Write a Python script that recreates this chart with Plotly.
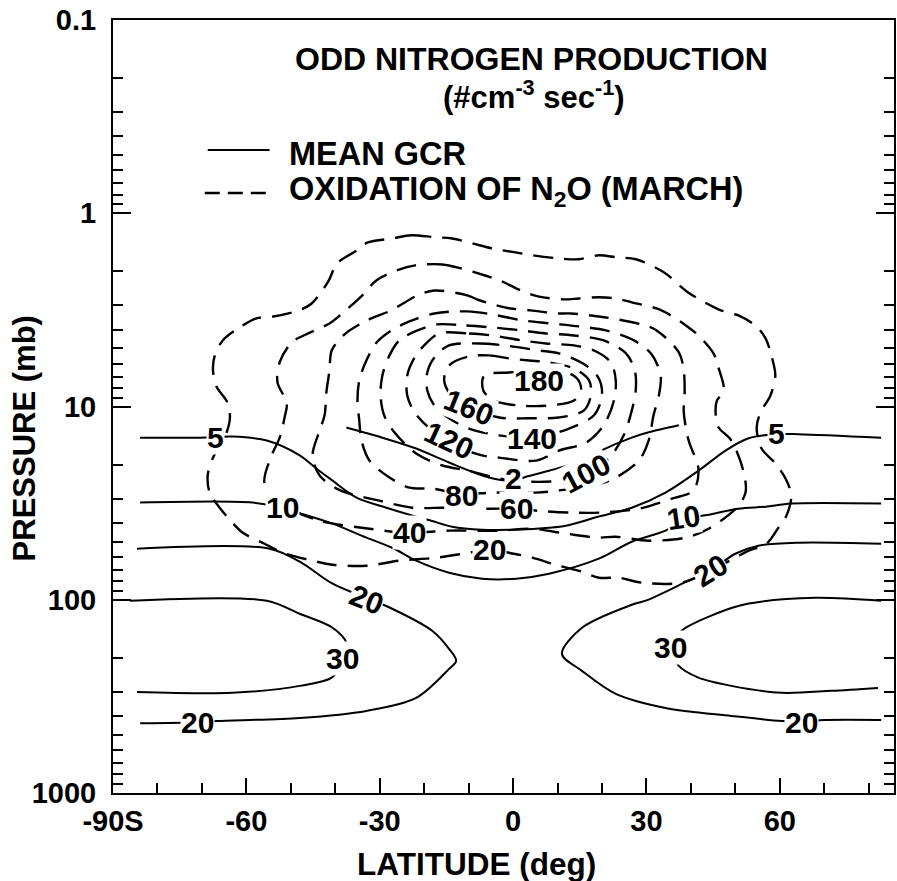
import numpy as np
import plotly.graph_objects as go

# ---------------- DATA (latitude in deg, pressure in mb) ----------------
# Mean GCR odd-nitrogen production (solid contours)
gcr_5_lat = [-83.9, -70.5, -63.1, -55.4, -48.0, -44.2, -40.6, -35.2, -28.5, -23.3, -18.4, -13.7, -7.0, 0.7, 8.1,
             11.9, 19.3, 26.7, 34.3, 41.7, 47.8, 53.0, 59.0, 64.2, 82.8]
gcr_5_p = [14.5, 14.5, 14.3, 15.0, 17.9, 21.0, 24.2, 29.6, 33.4, 36.3, 39.0, 41.9, 43.4, 43.4, 42.4,
           41.4, 37.1, 33.4, 27.9, 21.5, 16.9, 14.6, 13.9, 13.9, 14.5]

gcr_10_lat = [-83.9, -58.6, -51.8, -46.9, -40.6, -33.0, -27.2, -21.8, -14.4, -7.0, 0.7, 8.1, 19.3, 26.7, 34.3,
              38.4, 44.0, 50.7, 56.8, 62.6, 82.8]
gcr_10_p = [31.4, 31.4, 33.4, 36.3, 40.4, 47.7, 53.8, 62.8, 72.5, 77.8, 77.8, 73.3, 61.3, 50.1, 43.9,
            38.5, 36.3, 33.8, 33.0, 31.8, 31.8]

gcr_20s_lat = [-84.6, -54.8, -48.0, -40.6, -33.0, -27.2, -18.2, -14.4, -12.8, -14.4, -21.8, -33.0, -48.0, -66.7,
               -71.2, -83.9]
gcr_20s_p = [54.4, 54.4, 63.5, 82.6, 97.9, 111.3, 144.7, 179.5, 207, 227.9, 322, 376, 409, 424, 430, 436]

gcr_20n_lat = [82.8, 64.2, 55.2, 50.0, 44.4, 39.5, 30.5, 26.7, 15.5, 11.0, 15.5, 23.1, 34.3, 49.1, 60.4, 64.9,
               70.2, 82.8]
gcr_20n_p = [51.3, 50.7, 52.5, 57.8, 70.7, 79.7, 99.9, 106.2, 139.7, 190.5, 233.3, 307, 363, 399, 424, 426,
             419, 419]

gcr_30s_lat = [-86.2, -55.4, -48.0, -40.6, -37.5, -37.9, -40.8, -48.0, -63.1, -84.6]
gcr_30s_p = [101.2, 101.2, 118.2, 139.6, 167, 202, 253, 279, 303, 300]

gcr_30n_lat = [82.8, 68.0, 53.0, 45.6, 37.9, 35.5, 37.3, 41.7, 49.1, 60.4, 71.6, 82.1]
gcr_30n_p = [101.2, 97.6, 104.7, 118.2, 144.7, 177, 220, 253, 279, 303, 296, 286]

gcr_2_lat = [-37.5, -29.4, -21.8, -14.4, -5.4, 0.2, 2.9, 8.1, 15.5, 19.3, 26.7, 30.5, 37.3]
gcr_2_p = [12.85, 14.5, 16.5, 19.5, 23.3, 24.2, 23.1, 21.5, 19.05, 17.1, 14.5, 13.6, 12.5]

# Oxidation of N2O, March (dashed contours)
n2o_20_lat = [-27.2, -22.9, -17.7, -13.7, -9.2, -4.7, 0.2, 4.3, 9.9, 14.8, 19.3, 23.3, 27.6, 33.9, 39.3, 46.2,
              50.7, 54.5, 56.8, 58.1, 59.0, 57.9, 55.7, 54.8, 55.9, 59.0, 61.3, 62.6, 61.5, 59.7, 57.0, 53.0,
              50.0, 44.4, 37.9, 28.9, 23.8, 19.3, 15.5, 10.3, 4.3, 0.2, -5.4, -9.9, -17.3, -25.6, -33.0, -40.6,
              -45.1, -51.8, -55.9, -60.8, -63.1, -66.0, -68.2, -68.7, -67.5, -64.9, -63.7, -64.4, -66.7, -67.5,
              -67.1, -65.3, -61.5, -57.7, -53.9, -48.2, -45.3, -41.7, -39.5, -35.2, -32.8, -27.2]
n2o_20_p = [1.35, 1.30, 1.33, 1.35, 1.43, 1.52, 1.59, 1.65, 1.71, 1.73, 1.65, 1.69, 1.73, 2.02, 2.56, 3.14,
            3.38, 3.81, 4.44, 5.44, 6.91, 8.77, 10.7, 12.9, 16.5, 19.7, 23.6, 28.9, 36.7, 42.4, 51.3, 55.7,
            60.6, 70.7, 81.6, 81.6, 76.9, 76.9, 71.6, 66.7, 60.6, 57.8, 55.1, 57.1, 60.6, 62.8, 66.7, 65.9,
            62.8, 57.1, 51.3, 45.0, 40.0, 33.4, 28.2, 22.8, 18.4, 14.5, 11.5, 9.4, 7.9, 6.5,
            5.44, 4.55, 3.9, 3.5, 3.42, 3.18, 2.93, 2.28, 1.81, 1.56, 1.42, 1.35]

n2o_40_lat = [-22.0, -15.9, -11.7, -6.3, -3.1, 1.8, 5.6, 11.4, 14.8, 19.3, 23.1, 26.7, 32.3, 35.5, 39.5, 41.7,
              45.1, 46.2, 47.4, 45.8, 45.6, 46.2, 49.1, 51.8, 52.3, 50.3, 44.0, 38.8, 30.5, 23.1, 19.3, 11.9,
              4.3, -3.1, -14.4, -23.8, -32.3, -43.5, -51.4, -55.9, -54.3, -52.5, -51.4, -50.9, -53.0, -52.5,
              -49.8, -46.5, -41.3, -39.0, -33.9, -30.7, -26.0, -22.0]
n2o_40_p = [1.86, 1.84, 1.93, 2.10, 2.22, 2.51, 2.69, 2.79, 2.76, 2.72, 2.76, 2.89, 3.11, 3.38, 3.90, 4.29,
            5.31, 6.28, 8.26, 9.4, 11.1, 12.8, 15.0, 21.5, 27.9, 33.4, 42.9, 47.7, 49.5, 47.2, 47.7, 45.5,
            42.9, 43.9, 43.9, 45.0, 42.9, 39.0, 32.6, 25.1, 17.9, 14.5, 11.4, 9.6, 7.5, 5.9,
            4.66, 4.23, 3.72, 3.38, 2.66, 2.22, 1.97, 1.86]

n2o_60_lat = [-17.7, -10.3, -7.6, -0.9, 4.0, 9.6, 13.0, 19.3, 22.2, 28.9, 32.3, 37.3, 38.4, 38.6, 38.4, 39.5,
              41.7, 40.6, 35.7, 28.3, 19.7, 13.2, 5.4, 0.7, -6.1, -11.4, -15.9, -22.7, -30.1, -36.8, -39.7,
              -43.5, -45.1, -43.5, -42.4, -42.0, -41.3, -40.8, -37.9, -32.8, -27.4, -21.5, -17.7]
n2o_60_p = [2.51, 2.66, 2.82, 3.10, 3.18, 3.30, 3.30, 3.42, 3.50, 3.76, 4.04, 5.25, 6.51, 8.46, 10.7, 15.0,
            21.0, 27.2, 30.0, 33.8, 35.4, 35.4, 34.6, 33.8, 33.8, 33.4, 33.4, 33.4, 30.7, 28.2, 26.6,
            22.8, 17.9, 13.3, 11.1, 8.46, 6.51, 5.13, 4.23, 3.58, 3.18, 2.66, 2.51]

n2o_80_lat = [-17.7, -10.3, -4.7, 2.0, 8.1, 14.8, 20.9, 27.2, 31.2, 33.2, 32.8, 31.6, 30.5, 28.3, 22.7, 17.1,
              10.3, 5.2, -4.3, -11.7, -18.2, -23.3, -27.8, -32.3, -34.1, -34.6, -35.0, -34.6, -33.0, -30.7,
              -27.4, -23.3, -17.7]
n2o_80_p = [3.30, 3.22, 3.34, 3.58, 3.71, 3.85, 4.04, 4.55, 5.38, 6.91, 8.77, 11.1, 15.0, 19.05, 23.6, 25.9,
            27.2, 27.9, 27.9, 28.3, 26.6, 26.3, 23.3, 19.05, 15.0, 11.8, 9.31, 7.33, 5.78, 4.66,
            4.04, 3.63, 3.30]

n2o_100_lat = [-17.1, -10.5, -4.7, 2.0, 7.0, 13.7, 20.4, 25.4, 27.4, 27.6, 26.7, 24.9, 21.5, 16.4, 10.3, 3.6,
               -3.1, -9.9, -15.9, -21.8, -26.7, -29.0, -29.8, -29.4, -27.8, -25.6, -21.5, -17.1]
n2o_100_p = [3.76, 3.81, 3.90, 4.04, 4.18, 4.29, 4.55, 5.31, 6.51, 8.26, 10.5, 14.1, 18.6, 22.2, 24.2, 24.5,
             23.6, 21.5, 20.2, 17.5, 13.6, 11.1, 8.77, 6.91, 5.44, 4.55, 4.04, 3.76]

n2o_120_lat = [-16.6, -9.9, -4.7, 2.0, 7.4, 13.7, 18.2, 22.0, 23.1, 22.7, 20.4, 16.4, 10.3, 5.2, -3.1, -7.0,
               -12.1, -14.4, -18.9, -22.2, -23.8, -23.8, -22.2, -20.0, -16.6]
n2o_120_p = [4.19, 4.19, 4.29, 4.55, 4.72, 4.83, 5.13, 5.91, 7.33, 9.31, 12.5, 15.4, 16.9, 19.05, 18.4, 17.9,
             16.3, 15.0, 12.9, 10.7, 8.77, 6.91, 5.6, 4.83, 4.19]

n2o_140_lat = [-14.4, -7.6, -2.0, 5.8, 10.3, 16.4, 19.3, 20.0, 18.2, 12.6, 4.3, -3.1, -9.9, -14.4, -17.7, -19.3,
               -19.3, -17.7, -14.4]
n2o_140_p = [4.83, 4.72, 4.83, 5.13, 5.31, 6.13, 7.16, 8.77, 11.1, 13.0, 14.6, 14.1, 13.0, 11.5, 9.88, 8.26,
             6.67, 5.57, 4.83]

n2o_160_lat = [-9.9, -5.4, -0.9, 3.6, 8.1, 13.7, 17.1, 17.5, 15.9, 10.3, 3.6, -3.1, -9.9, -13.9, -15.5, -14.4,
               -9.9]
n2o_160_p = [5.5, 5.44, 5.64, 5.78, 5.91, 6.36, 7.33, 8.77, 10.5, 11.4, 11.5, 11.4, 10.1, 8.77, 7.33, 6.13, 5.5]

n2o_180_lat = [-6.5, -0.9, 5.8, 11.4, 14.4, 15.3, 13.7, 8.1, 1.3, -4.3, -6.7, -6.5]
n2o_180_p = [6.91, 6.67, 6.51, 6.59, 7.16, 8.26, 9.31, 9.88, 9.88, 9.31, 8.26, 6.91]

# Contour labels: text, latitude, pressure
label_text = ["5", "5", "10", "10", "20", "20", "30", "20", "30", "20", "2",
              "20", "40", "60", "80", "100", "120", "140", "160", "180"]
label_lat = [-66.9, 59.2, -51.8, 38.4, -33.0, -71.1, -38.4, 44.4, 35.5, 64.9, 0.2,
             -5.4, -23.3, 0.7, -11.7, 16.4, -14.4, 4.3, -9.9, 5.8]
label_p = [14.5, 13.8, 33.4, 37.6, 99.9, 434, 202, 70.7, 177, 434, 23.6,
           55.1, 45.0, 33.8, 28.9, 22.2, 15.0, 14.6, 10.1, 7.33]

# Axis ticks
x_tick_vals = [-90, -60, -30, 0, 30, 60]
x_tick_text = ["-90S", "-60", "-30", "0", "30", "60"]
y_tick_vals = [0.1, 1, 10, 100, 1000]
y_tick_text = ["0.1", "1", "10", "100", "1000"]

# ---------------- FIGURE ----------------
solid_lines = [(gcr_5_lat, gcr_5_p), (gcr_10_lat, gcr_10_p), (gcr_20s_lat, gcr_20s_p),
               (gcr_20n_lat, gcr_20n_p), (gcr_30s_lat, gcr_30s_p), (gcr_30n_lat, gcr_30n_p),
               (gcr_2_lat, gcr_2_p)]
dashed_lines = [(n2o_20_lat, n2o_20_p), (n2o_40_lat, n2o_40_p), (n2o_60_lat, n2o_60_p),
                (n2o_80_lat, n2o_80_p), (n2o_100_lat, n2o_100_p), (n2o_120_lat, n2o_120_p),
                (n2o_140_lat, n2o_140_p), (n2o_160_lat, n2o_160_p), (n2o_180_lat, n2o_180_p)]

fig = go.Figure()
for la, pp in dashed_lines:
    assert len(la) == len(pp)
    fig.add_trace(go.Scatter(x=la, y=pp, mode="lines", hoverinfo="skip",
                             line=dict(color="black", width=2.4, dash="20px,11px", shape="spline",
                                       smoothing=0.9)))
for la, pp in solid_lines:
    assert len(la) == len(pp)
    fig.add_trace(go.Scatter(x=la, y=pp, mode="lines", hoverinfo="skip",
                             line=dict(color="black", width=2, shape="spline", smoothing=0.9)))

FONT = "Liberation Sans, Arial, Helvetica, sans-serif"
label_angles = [0, 0, 0, -8, 22, 0, 0, -32, 0, 0, 0, 0, 0, 0, 0, -28, 25, 0, 22, 0]
for t, la, pp, ang in zip(label_text, label_lat, label_p, label_angles):
    fig.add_annotation(x=la, y=np.log10(pp), xref="x", yref="y", text=t, showarrow=False,
                       textangle=ang, bgcolor="white", borderpad=0,
                       xanchor="center", yanchor="middle",
                       font=dict(family=FONT, size=30, color="black", weight="bold"))


def paper_text(x, y, text, size, xanchor="center", angle=0):
    fig.add_annotation(x=x, y=y, xref="paper", yref="paper", text=text, showarrow=False,
                       xanchor=xanchor, yanchor="middle", textangle=angle,
                       font=dict(family=FONT, size=size, color="black", weight="bold"))


# Title block and legend
paper_text(0.5364, 0.949, "ODD NITROGEN PRODUCTION", 32)
paper_text(0.539, 0.9036, "(#cm<sup>-3</sup> sec<sup>-1</sup>)", 31)
fig.add_shape(type="line", xref="paper", yref="paper", x0=0.1213, x1=0.2005, y0=0.8318, y1=0.8318,
              line=dict(color="black", width=2))
fig.add_shape(type="line", xref="paper", yref="paper", x0=0.1175, x1=0.1967, y0=0.7762, y1=0.7762,
              line=dict(color="black", width=2.4, dash="15px,8px"))
paper_text(0.2222, 0.8266, "MEAN GCR", 32.5, xanchor="left")
paper_text(0.2222, 0.7775, "OXIDATION OF N<sub>2</sub>O (MARCH)", 32.5, xanchor="left")

# Axis titles
paper_text(0.465, -0.0918, "LATITUDE (deg)", 31.5)
paper_text(-0.1137, 0.459, "PRESSURE (mb)", 31, angle=-90)

minor_y = [k * 10.0 ** e for e in range(-1, 3) for k in range(2, 10)]

fig.update_xaxes(range=[-90, 85.7], tickvals=x_tick_vals, ticktext=x_tick_text,
                 ticks="inside", ticklen=15, tickwidth=2, tickcolor="black",
                 showline=True, linecolor="black", linewidth=2, mirror=True,
                 showgrid=False, zeroline=False, ticklabelstandoff=1,
                 tickfont=dict(family=FONT, size=29, color="black", weight="bold"),
                 minor=dict(tickvals=list(range(-80, 90, 10)), ticks="inside", ticklen=10, tickwidth=2,
                            tickcolor="black", showgrid=False))
fig.update_yaxes(type="log", range=[3, -1], tickvals=y_tick_vals, ticktext=y_tick_text,
                 ticks="inside", ticklen=18, tickwidth=2, tickcolor="black",
                 showline=True, linecolor="black", linewidth=2, mirror="ticks",
                 showgrid=False, zeroline=False, ticklabelstandoff=9,
                 tickfont=dict(family=FONT, size=29, color="black", weight="bold"),
                 minor=dict(tickvals=minor_y, ticks="inside", ticklen=10, tickwidth=2,
                            tickcolor="black", showgrid=False))

fig.update_layout(width=897, height=881, margin=dict(l=113, r=1, t=20, b=88),
                  plot_bgcolor="white", paper_bgcolor="white", showlegend=False)

fig.write_html("out.html")
